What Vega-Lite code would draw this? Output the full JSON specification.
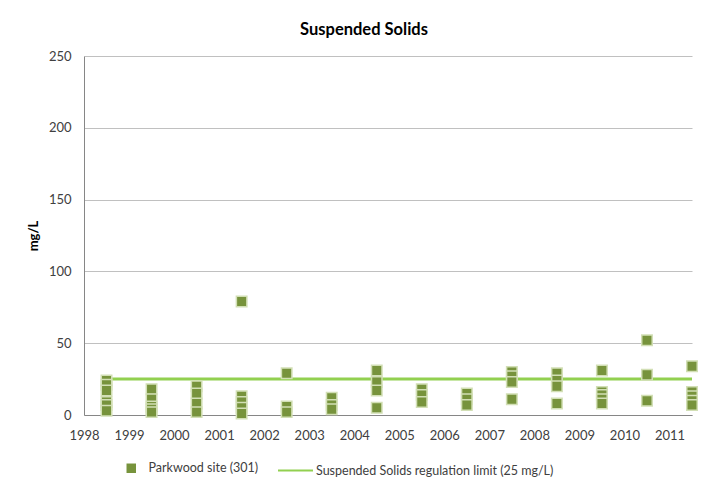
{
  "$schema": "https://vega.github.io/schema/vega-lite/v6.json",
  "width": 608,
  "height": 359,
  "autosize": {"type": "none"},
  "padding": {"left": 84, "top": 56, "right": 27, "bottom": 75},
  "background": "white",
  "title": {"text": "Suspended Solids", "fontSize": 16.5, "fontWeight": "bold", "font": "Lato", "color": "#000000", "anchor": "middle", "dx": -24, "offset": 12},
  "config": {"view": {"stroke": null}, "font": "Lato"},
  "datasets": {
    "pts": [
      {"year": 1998.5, "value": 24, "series": "Parkwood site (301)"},
      {"year": 1998.5, "value": 21, "series": "Parkwood site (301)"},
      {"year": 1998.5, "value": 17, "series": "Parkwood site (301)"},
      {"year": 1998.5, "value": 9, "series": "Parkwood site (301)"},
      {"year": 1998.5, "value": 7, "series": "Parkwood site (301)"},
      {"year": 1998.5, "value": 3, "series": "Parkwood site (301)"},
      {"year": 1999.5, "value": 18, "series": "Parkwood site (301)"},
      {"year": 1999.5, "value": 11, "series": "Parkwood site (301)"},
      {"year": 1999.5, "value": 6, "series": "Parkwood site (301)"},
      {"year": 1999.5, "value": 4, "series": "Parkwood site (301)"},
      {"year": 1999.5, "value": 2, "series": "Parkwood site (301)"},
      {"year": 2000.5, "value": 20, "series": "Parkwood site (301)"},
      {"year": 2000.5, "value": 15, "series": "Parkwood site (301)"},
      {"year": 2000.5, "value": 8, "series": "Parkwood site (301)"},
      {"year": 2000.5, "value": 2, "series": "Parkwood site (301)"},
      {"year": 2001.5, "value": 79, "series": "Parkwood site (301)"},
      {"year": 2001.5, "value": 13, "series": "Parkwood site (301)"},
      {"year": 2001.5, "value": 9, "series": "Parkwood site (301)"},
      {"year": 2001.5, "value": 5, "series": "Parkwood site (301)"},
      {"year": 2001.5, "value": 1, "series": "Parkwood site (301)"},
      {"year": 2002.5, "value": 29, "series": "Parkwood site (301)"},
      {"year": 2002.5, "value": 6, "series": "Parkwood site (301)"},
      {"year": 2002.5, "value": 2, "series": "Parkwood site (301)"},
      {"year": 2003.5, "value": 12, "series": "Parkwood site (301)"},
      {"year": 2003.5, "value": 7, "series": "Parkwood site (301)"},
      {"year": 2003.5, "value": 4, "series": "Parkwood site (301)"},
      {"year": 2004.5, "value": 31, "series": "Parkwood site (301)"},
      {"year": 2004.5, "value": 23, "series": "Parkwood site (301)"},
      {"year": 2004.5, "value": 17, "series": "Parkwood site (301)"},
      {"year": 2004.5, "value": 5, "series": "Parkwood site (301)"},
      {"year": 2005.5, "value": 18, "series": "Parkwood site (301)"},
      {"year": 2005.5, "value": 14, "series": "Parkwood site (301)"},
      {"year": 2005.5, "value": 9, "series": "Parkwood site (301)"},
      {"year": 2006.5, "value": 15, "series": "Parkwood site (301)"},
      {"year": 2006.5, "value": 11, "series": "Parkwood site (301)"},
      {"year": 2006.5, "value": 7, "series": "Parkwood site (301)"},
      {"year": 2007.5, "value": 30, "series": "Parkwood site (301)"},
      {"year": 2007.5, "value": 27, "series": "Parkwood site (301)"},
      {"year": 2007.5, "value": 23, "series": "Parkwood site (301)"},
      {"year": 2007.5, "value": 11, "series": "Parkwood site (301)"},
      {"year": 2008.5, "value": 29, "series": "Parkwood site (301)"},
      {"year": 2008.5, "value": 24, "series": "Parkwood site (301)"},
      {"year": 2008.5, "value": 20, "series": "Parkwood site (301)"},
      {"year": 2008.5, "value": 8, "series": "Parkwood site (301)"},
      {"year": 2009.5, "value": 31, "series": "Parkwood site (301)"},
      {"year": 2009.5, "value": 16, "series": "Parkwood site (301)"},
      {"year": 2009.5, "value": 14, "series": "Parkwood site (301)"},
      {"year": 2009.5, "value": 11, "series": "Parkwood site (301)"},
      {"year": 2009.5, "value": 8, "series": "Parkwood site (301)"},
      {"year": 2010.5, "value": 52, "series": "Parkwood site (301)"},
      {"year": 2010.5, "value": 28, "series": "Parkwood site (301)"},
      {"year": 2010.5, "value": 10, "series": "Parkwood site (301)"},
      {"year": 2011.5, "value": 34, "series": "Parkwood site (301)"},
      {"year": 2011.5, "value": 16, "series": "Parkwood site (301)"},
      {"year": 2011.5, "value": 13, "series": "Parkwood site (301)"},
      {"year": 2011.5, "value": 10, "series": "Parkwood site (301)"},
      {"year": 2011.5, "value": 7, "series": "Parkwood site (301)"}
    ],
    "limit": [
      {"year": 1998.5, "value": 25, "series": "Suspended Solids regulation limit (25 mg/L)"},
      {"year": 2011.5, "value": 25, "series": "Suspended Solids regulation limit (25 mg/L)"}
    ]
  },
  "encoding": {
    "x": {
      "field": "year", "type": "quantitative",
      "scale": {"domain": [1998, 2011.5], "nice": false, "zero": false},
      "axis": {"values": [1998, 1999, 2000, 2001, 2002, 2003, 2004, 2005, 2006, 2007, 2008, 2009, 2010, 2011], "format": "d", "title": null, "grid": false, "ticks": false, "labelPadding": 14, "labelFlush": false, "labelOverlap": false, "labelFontSize": 13, "labelColor": "#404040", "labelFont": "Lato", "domainColor": "#868686", "domainWidth": 1}
    },
    "y": {
      "field": "value", "type": "quantitative",
      "scale": {"domain": [0, 250], "nice": false},
      "axis": {"values": [0, 50, 100, 150, 200, 250], "title": "mg/L", "titleFontWeight": "bold", "titleFontSize": 13, "titleColor": "#000000", "titleFont": "Lato", "titlePadding": 8, "grid": true, "gridColor": "#c0c0c0", "gridWidth": 1, "ticks": false, "labelPadding": 13, "labelFontSize": 13, "labelColor": "#404040", "labelFont": "Lato", "domainColor": "#868686", "domainWidth": 1}
    }
  },
  "layer": [
    {
      "data": {"name": "limit"},
      "mark": {"type": "line", "strokeWidth": 3},
      "encoding": {
        "color": {"field": "series", "type": "nominal", "scale": {"range": ["#92d050"]},
          "legend": {"title": null, "orient": "none", "legendX": 193, "legendY": 396, "symbolType": "stroke", "symbolStrokeWidth": 2, "symbolSize": 1225, "labelFontSize": 12.5, "labelColor": "#404040", "labelFont": "Lato", "labelOffset": 2, "labelLimit": 400}}
      }
    },
    {
      "data": {"name": "pts"},
      "mark": {"type": "point", "shape": "square", "filled": true, "size": 110, "opacity": 1, "stroke": "#d2dfb5", "strokeWidth": 1.5},
      "encoding": {
        "color": {"field": "series", "type": "nominal", "scale": {"range": ["#77933c"]},
          "legend": {"title": null, "orient": "none", "legendX": 41, "legendY": 406, "symbolType": "square", "symbolSize": 90, "symbolStrokeWidth": 0, "labelFontSize": 12.5, "labelColor": "#404040", "labelFont": "Lato", "labelOffset": 11, "labelLimit": 400}}
      }
    }
  ],
  "resolve": {"scale": {"color": "independent"}}
}
